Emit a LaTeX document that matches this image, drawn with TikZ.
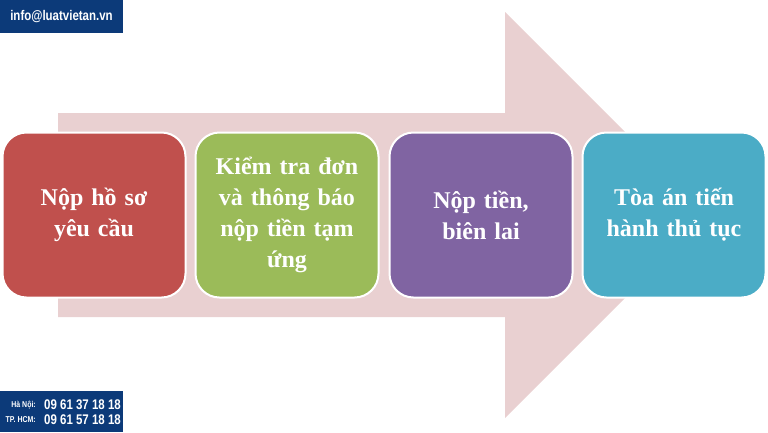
\documentclass[tikz,border=0pt]{standalone}
\usepackage{fontspec}
\setmainfont{Liberation Serif}
\newfontfamily\infofont[FakeStretch=0.82]{Liberation Sans}
\usepackage{xcolor}
\usepackage{tikz}
\usetikzlibrary{calc}
\usetikzlibrary{positioning}

\definecolor{stepred}{HTML}{C0504D}
\definecolor{stepgreen}{HTML}{9BBB59}
\definecolor{steppurple}{HTML}{8064A2}
\definecolor{stepteal}{HTML}{4BACC6}
\definecolor{arrowpink}{HTML}{E9D0D1}
\definecolor{labelblue}{HTML}{0C3A79}

\begin{document}
\begin{tikzpicture}[x=1pt, y=-1pt,
  stepbox/.style={rectangle, rounded corners=24pt, draw=white, line width=2pt,
    minimum width=183pt, minimum height=165pt, text width=165pt, align=center,
    text=white, font=\fontsize{24}{31}\selectfont\bfseries},
  infotext/.style={text=white, inner sep=0pt, font=\infofont\bfseries}]
 \useasboundingbox (0,0) rectangle (768,432);
 % background arrow
 \fill [arrowpink] (58,113) -- (505,113) -- (505,12) -- (708,215) -- (505,418)
   -- (505,317) -- (58,317) -- cycle;
 % steps
 \node [stepbox, fill=stepred] (hoso) at (94,215) {Nộp hồ sơ\\yêu cầu};
 \node [stepbox, fill=stepgreen] (kiemtra) at (287,215) {Kiểm tra đơn\\và thông báo\\nộp tiền tạm\\ứng};
 \node [stepbox, fill=steppurple] (noptien) at (481,215) {Nộp tiền,\\biên lai};
 \node [stepbox, fill=stepteal] (toaan) at (674,215) {Tòa án tiến\\hành thủ tục};
 % contact labels
 \fill [labelblue] (0,0) rectangle (123,33);
 \node [infotext, font=\infofont\bfseries\fontsize{14}{16}\selectfont] (email) at (61.5,17) {info@luatvietan.vn};
 \fill [labelblue] (0,391) rectangle (123,432);
 \node [infotext, anchor=east, font=\infofont\bfseries\fontsize{8.5}{10}\selectfont] (hanoi) at (36,405) {Hà Nội:};
 \node [infotext, anchor=west, font=\infofont\bfseries\fontsize{14}{16}\selectfont] (hanoinum) at (44,405) {09 61 37 18 18};
 \node [infotext, anchor=east, font=\infofont\bfseries\fontsize{8.5}{10}\selectfont] (hcm) at (36,420) {TP. HCM:};
 \node [infotext, anchor=west, font=\infofont\bfseries\fontsize{14}{16}\selectfont] (hcmnum) at (44,420) {09 61 57 18 18};
\end{tikzpicture}
\end{document}
